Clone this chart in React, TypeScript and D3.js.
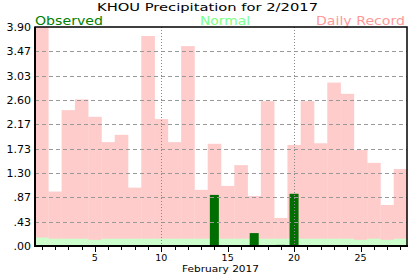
import React from "react";
import * as d3 from "d3";

const days = d3.range(1, 29);
const recordValues = [3.9, 0.97, 2.42, 2.61, 2.3, 1.85, 1.98, 1.04, 3.74, 2.26, 1.85, 3.56, 1.0, 1.82, 1.07, 1.44, 0.89, 2.58, 0.5, 1.8, 2.58, 1.83, 2.91, 2.71, 1.71, 1.48, 0.73, 1.37];
const normalValues = [0.15, 0.13, 0.13, 0.13, 0.11, 0.13, 0.13, 0.13, 0.13, 0.13, 0.13, 0.13, 0.13, 0.13, 0.13, 0.13, 0.13, 0.13, 0.13, 0.13, 0.13, 0.13, 0.13, 0.13, 0.11, 0.13, 0.11, 0.13];
const observedValues = [0, 0, 0, 0, 0, 0, 0, 0, 0, 0, 0, 0, 0, 0.91, 0, 0, 0.23, 0, 0.02, 0.93, 0, 0, 0, 0, 0, 0, 0, 0];
const yTicks = [0, 0.43, 0.87, 1.3, 1.73, 2.17, 2.6, 3.03, 3.47, 3.9];
const yTickLabels = [".00", ".43", ".87", "1.30", "1.73", "2.17", "2.60", "3.03", "3.47", "3.90"];
const xLabelDays = [5, 10, 15, 20, 25];
const dottedDays = [10, 20];

const W = 417, H = 276;
const left = 35, right = 407, top = 27, bottom = 246;
const font = "'DejaVu Sans', Verdana, sans-serif";

export default function App() {
  const x = d3.scaleBand<number>().domain(days).range([left, right]).padding(0);
  const y = d3.scaleLinear().domain([0, 3.9]).range([bottom, top]);
  const bw = x.bandwidth();
  const cx = (d: number) => (x(d) as number) + bw / 2;
  const obsW = 9;

  return (
    <svg width={W} height={H} style={{ position: "absolute", left: 0, top: 0, background: "#fff" }}>
      <text x={97} y={10.5} textLength={221} lengthAdjust="spacingAndGlyphs" fontFamily={font} fontSize={11} fill="#000">
        KHOU Precipitation for 2/2017
      </text>
      <text x={35} y={25} textLength={68} lengthAdjust="spacingAndGlyphs" fontFamily={font} fontSize={12.8} fill="#008000">Observed</text>
      <text x={200} y={25} textLength={50} lengthAdjust="spacingAndGlyphs" fontFamily={font} fontSize={12.8} fill="#80ff80">Normal</text>
      <text x={316} y={25} textLength={89} lengthAdjust="spacingAndGlyphs" fontFamily={font} fontSize={12.8} fill="#ff9999">Daily Record</text>

      {days.map((d, i) => (
        <rect key={"r" + d} x={x(d)} y={y(recordValues[i])} width={bw + 0.3} height={bottom - y(recordValues[i])} fill="#ffcccc" />
      ))}
      {days.map((d, i) => (
        <rect key={"n" + d} x={x(d)} y={y(normalValues[i])} width={bw + 0.3} height={bottom - y(normalValues[i])} fill="#ccffcc" />
      ))}
      {days.map((d, i) =>
        observedValues[i] > 0 ? (
          <rect key={"o" + d} x={cx(d) - obsW / 2} y={y(observedValues[i])} width={obsW} height={bottom - y(observedValues[i])} fill="#006e00" />
        ) : null
      )}

      {yTicks.slice(1, -1).map((t) => (
        <line key={"g" + t} x1={left} x2={right} y1={Math.round(y(t)) + 0.5} y2={Math.round(y(t)) + 0.5} stroke="#999" strokeDasharray="4,3" />
      ))}
      {dottedDays.map((d) => (
        <line key={"v" + d} x1={Math.round(cx(d)) + 0.5} x2={Math.round(cx(d)) + 0.5} y1={top} y2={bottom} stroke="#888" strokeDasharray="1,2" />
      ))}

      <rect x={left} y={top} width={right - left} height={bottom - top} fill="none" stroke="#000" strokeWidth={1.5} />
      <line x1={left} x2={left} y1={top} y2={bottom + 1} stroke="#000" strokeWidth={2} />
      <line x1={left - 1} x2={right + 1} y1={bottom} y2={bottom} stroke="#000" strokeWidth={2} />

      {yTicks.map((t, i) => (
        <text key={"yl" + t} x={31} y={y(t) + 4} textAnchor="end" fontFamily={font} fontSize={11} fill="#000">
          {yTickLabels[i]}
        </text>
      ))}

      {days.map((d) => {
        const major = xLabelDays.includes(d);
        return (
          <line key={"t" + d} x1={Math.round(cx(d)) + 0.5} x2={Math.round(cx(d)) + 0.5} y1={bottom} y2={bottom + (major ? 6 : 4)} stroke="#000" strokeWidth={1} />
        );
      })}
      {xLabelDays.map((d) => (
        <text key={"xl" + d} x={cx(d)} y={261} textAnchor="middle" fontFamily={font} fontSize={9.5} fill="#000">
          {d}
        </text>
      ))}
      <text x={182} y={272} textLength={77} lengthAdjust="spacingAndGlyphs" fontFamily={font} fontSize={9} fill="#000">
        February 2017
      </text>
    </svg>
  );
}
